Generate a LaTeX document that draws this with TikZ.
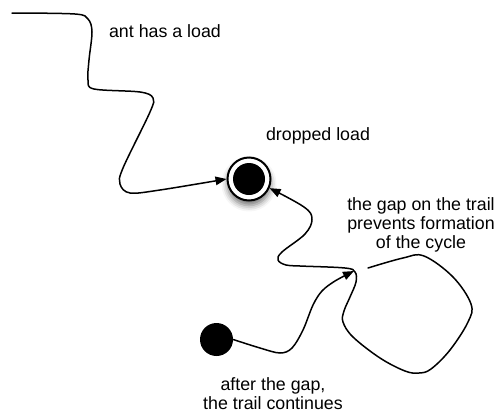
\documentclass[tikz,border=0pt]{standalone}
\usepackage{fontspec}
\setmainfont{Liberation Sans}
\usetikzlibrary{arrows.meta,shadows.blur}

\tikzset{
  trail/.style={line width=1.5pt, line cap=round, line join=round},
  trailarrow/.style={trail, -{Triangle[length=11pt,width=8.5pt]}},
  label/.style={font=\fontsize{17.8}{19}\selectfont, align=center, inner sep=0pt},
  loadring/.style={circle, draw=black, line width=2pt, fill=white,
    minimum size=43pt, inner sep=0pt,
    blur shadow={shadow xshift=0pt, shadow yshift=-5pt,
                 shadow blur radius=6pt, shadow opacity=55}},
  loaddisk/.style={circle, fill=black, minimum size=32pt, inner sep=0pt},
  antdisk/.style={circle, fill=black, minimum size=33pt, inner sep=0pt},
}

\begin{document}
\begin{tikzpicture}[x=1pt, y=-1pt]
  \useasboundingbox (0,0) rectangle (498,413);

  % dropped load and the ant after the gap
  \node[loadring] (drop) at (249,179) {};
  \node[loaddisk] (dropcore) at (drop.center) {};
  \node[antdisk] (ant) at (216.5,339.5) {};

  % loose ends of the trails
  \coordinate (trailstart) at (12,13);
  \coordinate (gapend) at (368,268);
  \coordinate (cusp) at (354,271);

  % labels
  \node[label] (lload) at (165,31) {ant has a load};
  \node[label] (ldrop) at (318,136) {dropped load};
  \node[label] (lgap) at (421,225) {the gap on the trail\\prevents formation\\of the cycle};
  \node[label] (lafter) at (273,394) {after the gap,\\the trail continues};

  % trail of the loaded ant
  \draw[trailarrow] plot[smooth, tension=0.55] coordinates {
    (trailstart) (75,14) (88,19) (92,32) (89,60) (88,80) (94,89)
    (140,92) (153,98) (150,112) (123,168) (120,184) (130,193)
    (160,190) (drop.west)};

  % loop after the gap, leading back to the load
  \draw[trailarrow] plot[smooth, tension=0.6] coordinates {
    (gapend) (403,258) (424,256) (453,277) (471,304)
    (468,322) (450,350) (431,369) (419,373) (405,371) (380,358)
    (353,337) (343,322) (344,311) (350,297) (356,282) (355,272)
    (345,268) (300,266) (286,265) (278,260) (282,252) (305,234)
    (312,219) (304,207) (drop.-24)};

  % trail continuing after the gap
  \draw[trailarrow] plot[smooth, tension=0.55] coordinates {
    (ant.east) (260,348) (280,353) (292,348) (303,330) (313,305)
    (322,291) (335,281) (cusp)};
\end{tikzpicture}
\end{document}
